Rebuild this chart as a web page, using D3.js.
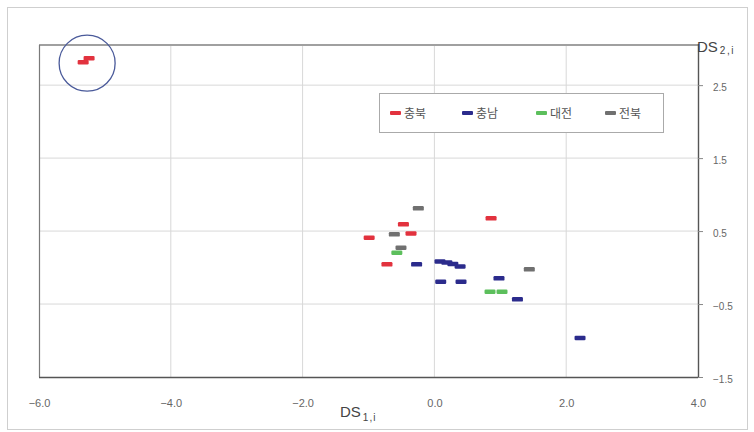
<!DOCTYPE html>
<html>
<head>
<meta charset="utf-8">
<script src="https://cdn.jsdelivr.net/npm/d3@7"></script>
<style>
  html, body { margin: 0; padding: 0; background: #fff; }
  svg { display: block; font-family: "Liberation Sans", Arial, "Noto Sans CJK KR", sans-serif; }
</style>
</head>
<body>
<svg id="chart" width="754" height="432"></svg>
<script>
// Region series: [DS1,i, DS2,i] pairs
const seriesNames = ["충북", "충남", "대전", "전북"];
const seriesColors = ["#e2323e", "#2b2b8c", "#5cbf5c", "#707070"];

const chungbuk = [
  [-5.33, 2.815], [-5.24, 2.87], [0.86, 0.674], [-0.47, 0.592],
  [-0.355, 0.468], [-0.99, 0.408], [-0.72, 0.044]
];
const chungnam = [
  [-0.27, 0.044], [0.085, 0.082], [0.19, 0.068], [0.28, 0.048],
  [0.39, 0.014], [0.096, -0.195], [0.404, -0.195], [0.98, -0.148],
  [1.26, -0.436], [2.21, -0.966]
];
const daejeon = [
  [-0.57, 0.203], [0.844, -0.332], [1.026, -0.332]
];
const jeonbuk = [
  [-0.244, 0.811], [-0.608, 0.455], [-0.507, 0.271], [1.44, -0.025]
];
const seriesData = [chungbuk, chungnam, daejeon, jeonbuk];

const xTicks = [-6, -4, -2, 0, 2, 4];
const yTicks = [2.5, 1.5, 0.5, -0.5, -1.5];

const svg = d3.select("#chart");
const plot = { left: 39, right: 698, top: 45, bottom: 377 };

const x = d3.scaleLinear().domain([-6, 4]).range([plot.left, plot.right]);
const y = d3.scaleLinear().domain([-1.5, 3.05]).range([plot.bottom, plot.top]);

// outer frame
svg.append("rect")
  .attr("x", 7.5).attr("y", 7.5).attr("width", 740).attr("height", 422)
  .attr("fill", "#fff").attr("stroke", "#cfcfcf");

// grid
svg.append("g").selectAll("line").data(xTicks.slice(1, -1)).join("line")
  .attr("x1", d => x(d)).attr("x2", d => x(d))
  .attr("y1", plot.top).attr("y2", plot.bottom)
  .attr("stroke", "#d8d8d8").attr("stroke-width", 1);
svg.append("g").selectAll("line").data(yTicks.slice(0, -1)).join("line")
  .attr("x1", plot.left).attr("x2", plot.right)
  .attr("y1", d => y(d)).attr("y2", d => y(d))
  .attr("stroke", "#d8d8d8").attr("stroke-width", 1);

// plot frame
svg.append("line").attr("x1", plot.left).attr("x2", plot.right + 1)
  .attr("y1", plot.top).attr("y2", plot.top)
  .attr("stroke", "#a0a0a0").attr("stroke-width", 2);
svg.append("line").attr("x1", plot.left + 0.5).attr("x2", plot.left + 0.5)
  .attr("y1", plot.top).attr("y2", plot.bottom)
  .attr("stroke", "#7a7a7a").attr("stroke-width", 1.2);
svg.append("line").attr("x1", plot.left).attr("x2", plot.right)
  .attr("y1", plot.bottom + 0.5).attr("y2", plot.bottom + 0.5)
  .attr("stroke", "#555").attr("stroke-width", 1.4);

// bottom axis
const xAxis = d3.axisBottom(x).tickValues(xTicks).tickSize(0).tickPadding(22)
  .tickFormat(d => d3.format(".1f")(d));
const gx = svg.append("g").attr("transform", `translate(0,${plot.bottom})`).call(xAxis);
gx.select(".domain").remove();
gx.selectAll("text").attr("fill", "#666").attr("font-size", 11);

// right axis
const yAxis = d3.axisRight(y).tickValues(yTicks).tickSize(5).tickPadding(10)
  .tickFormat(d => d3.format(".1f")(d));
const gy = svg.append("g").attr("transform", `translate(${plot.right},0)`).call(yAxis);
gy.select(".domain").attr("d", `M0.5,${plot.top - 1}V${plot.bottom + 1}`).attr("stroke", "#555").attr("stroke-width", 1.4);
gy.selectAll(".tick line").attr("stroke", "#888");
gy.selectAll("text").attr("fill", "#666").attr("font-size", 10).attr("dy", "0.5em");

// axis titles
const t1 = svg.append("text").attr("x", 340).attr("y", 417).attr("fill", "#444").attr("font-size", 15);
t1.append("tspan").text("DS");
t1.append("tspan").attr("font-size", 10).attr("dy", 4).attr("dx", 2).attr("letter-spacing", 1).text("1,i");
const t2 = svg.append("text").attr("x", 697).attr("y", 52).attr("fill", "#444").attr("font-size", 15);
t2.append("tspan").text("DS");
t2.append("tspan").attr("font-size", 10).attr("dy", 2).attr("dx", 2).attr("letter-spacing", 1.5).text("2,i");

// dash markers
const mw = 11, mh = 4.5;
seriesData.forEach((pts, i) => {
  svg.append("g").selectAll("rect").data(pts).join("rect")
    .attr("x", d => x(d[0]) - mw / 2)
    .attr("y", d => y(d[1]) - mh / 2)
    .attr("width", mw).attr("height", mh).attr("rx", 1.2)
    .attr("fill", seriesColors[i]);
});

// highlight circle around the outlying 충북 points
svg.append("circle")
  .attr("cx", (x(chungbuk[0][0]) + x(chungbuk[1][0])) / 2 + 1)
  .attr("cy", (y(chungbuk[0][1]) + y(chungbuk[1][1])) / 2 + 3)
  .attr("r", 28)
  .attr("fill", "none").attr("stroke", "#4a5a9a").attr("stroke-width", 1.3);

// legend
const lg = svg.append("g").attr("transform", "translate(379,93)");
lg.append("rect").attr("x", 0.5).attr("y", 0.5).attr("width", 284).attr("height", 39)
  .attr("fill", "#fff").attr("stroke", "#aaa");
const itemX = [11, 83, 157, 226];
seriesNames.forEach((name, i) => {
  const g = lg.append("g").attr("transform", `translate(${itemX[i]},20)`);
  g.append("rect").attr("x", 0).attr("y", -2).attr("width", 11).attr("height", 4).attr("rx", 1)
    .attr("fill", seriesColors[i]);
  g.append("text").attr("x", 14).attr("y", 4.5).attr("font-size", 12).attr("fill", "#555")
    .attr("font-family", "'Noto Sans CJK KR', sans-serif").text(name);
});
</script>
</body>
</html>
